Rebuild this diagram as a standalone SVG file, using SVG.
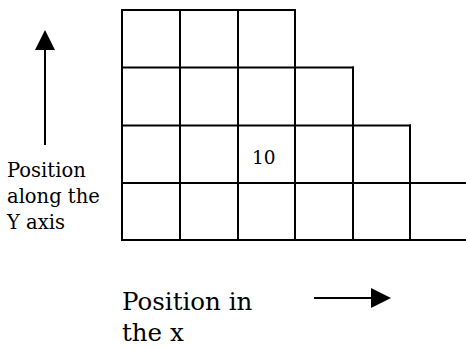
<svg xmlns="http://www.w3.org/2000/svg" width="466" height="348" viewBox="0 0 466 348">
<style>
.g{stroke:#000;stroke-width:2;fill:none;stroke-linecap:square}
.ax{stroke:#000;stroke-width:2;fill:none}
.t{font-family:"DejaVu Serif",serif;fill:#000}
</style>
<defs>
<marker id="ah" markerWidth="20" markerHeight="20" refX="0" refY="10" orient="auto" markerUnits="userSpaceOnUse" viewBox="0 0 20 20">
<path d="M0,0 L20,10 L0,20 Z" fill="#000"/>
</marker>
</defs>
<rect width="466" height="348" fill="#fff"/>
<g id="grid">
<path class="g" d="M122,10H295M122,67.5H353M122,125.5H410M122,183H466M122,240H466"/>
<path class="g" d="M122,10V240M180,10V240M238,10V240M295,10V240M353,67.5V240M410,125.5V240"/>
</g>
<g id="cell-10"><text class="t" x="252" y="164" font-size="18.5">10</text></g>
<g id="connectors">
<line class="ax" x1="45" y1="145" x2="45" y2="50" marker-end="url(#ah)"/>
<line class="ax" x1="314" y1="298" x2="371" y2="298" marker-end="url(#ah)"/>
</g>
<g id="label-y">
<text class="t" font-size="19.5"><tspan x="7" y="177">Position</tspan><tspan x="7" y="203">along the</tspan><tspan x="7" y="229">Y axis</tspan></text>
</g>
<g id="label-x">
<text class="t" font-size="24.5"><tspan x="122" y="310">Position in</tspan><tspan x="122" y="341">the x</tspan></text>
</g>
</svg>
